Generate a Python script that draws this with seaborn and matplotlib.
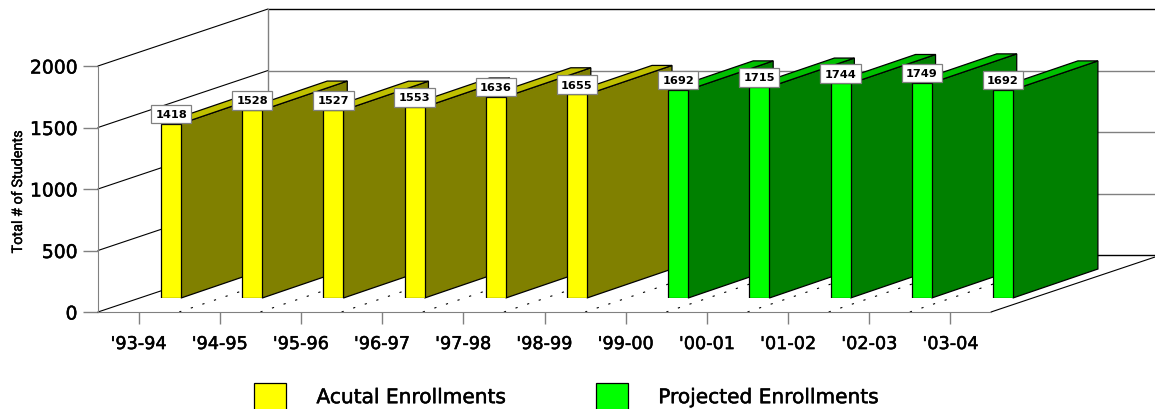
import pandas as pd
import seaborn as sns
import matplotlib.pyplot as plt
import matplotlib.patheffects as pe
from matplotlib.patches import Polygon

years = ["'93-94", "'94-95", "'95-96", "'96-97", "'97-98", "'98-99", "'99-00",
         "'00-01", "'01-02", "'02-03", "'03-04"]
enrollments = [1418, 1528, 1527, 1553, 1636, 1655, 1692, 1715, 1744, 1749, 1692]
series = ["Acutal Enrollments"] * 6 + ["Projected Enrollments"] * 5
y_ticks = [0, 500, 1000, 1500, 2000]

front_colors = {"Acutal Enrollments": "#ffff00", "Projected Enrollments": "#00ff00"}
side_colors = {"#ffff00": "#808000", "#00ff00": "#008000"}
top_colors = {"#ffff00": "#c0c000", "#00ff00": "#00c000"}

df = pd.DataFrame({"year": years, "students": enrollments, "series": series})

sns.set_style("white")
plt.rcParams["font.family"] = ["DejaVu Sans"]
plt.rcParams["text.color"] = "black"
plt.rcParams["axes.labelcolor"] = "black"
plt.rcParams["xtick.labelcolor"] = "black"
plt.rcParams["ytick.labelcolor"] = "black"

W, H = 1155, 410
fig = plt.figure(figsize=(W / 100, H / 100), dpi=100)
heavy = [pe.withStroke(linewidth=0.35, foreground="black")]

# wall and floor axes, pixel size of one category and one student
ax = fig.add_axes([98 / W, (H - 313) / H, 893 / W, 246 / H])
ax.set_xlim(-0.5, 10.5)
ax.set_ylim(0, 2000)
cat_px = 893 / 11
val_px = 246 / 2000
wall_dx = 170 / cat_px
wall_dy = 57 / val_px
right_edge = 10.5 + (1155 - 991) / cat_px

ax.set_xticks(range(11), years)
ax.set_yticks(y_ticks)
ax.tick_params(axis="x", length=8.6, width=1, color="#808080", labelsize=12.7, pad=8, bottom=True)
ax.tick_params(axis="y", length=10.8, width=1, color="#808080", labelsize=13.5, pad=4, left=True)
for lab in ax.get_xticklabels() + ax.get_yticklabels():
    lab.set_path_effects(heavy)
for name in ["top", "right"]:
    ax.spines[name].set_visible(False)
for name in ["left", "bottom"]:
    ax.spines[name].set_color("#808080")
ax.set_ylabel("Total # of Students", family=["Roboto", "DejaVu Sans"], fontsize=10.4,
              path_effects=[pe.withStroke(linewidth=0.25, foreground="black")])
ax.yaxis.set_label_coords((25 - 98) / 893, (313 - 193) / 246)

# left wall and back wall lines
for t in y_ticks:
    ax.plot([-0.5, -0.5 + wall_dx], [t, t + wall_dy], color="black", lw=0.8, clip_on=False)
    back = "black" if t in (0, 2000) else "#808080"
    ax.plot([-0.5 + wall_dx, right_edge], [t + wall_dy, t + wall_dy], color=back, lw=1, clip_on=False)
ax.plot([-0.5 + wall_dx] * 2, [wall_dy, 2000 + wall_dy], color="#808080", lw=1, clip_on=False)
ax.plot([10.5, 10.5 + wall_dx], [0, wall_dy], color="black", lw=0.8, clip_on=False)

# dotted floor lines between categories
for k in range(10):
    ax.plot([k + 0.5, k + 0.5 + wall_dx], [0, wall_dy], color="black", lw=0.8,
            ls=(0, (2, 9)), clip_on=False)

# bars sit on a plane set back from the front of the floor
ax_bar = fig.add_axes([(98 + 42.5) / W, (H - 299) / H, 893 / W, 246 / H])
ax_bar.patch.set_alpha(0)
sns.barplot(data=df, x="year", y="students", hue="series", hue_order=list(front_colors),
            palette=front_colors, order=years, width=40 / cat_px, gap=0, dodge=True,
            saturation=1, edgecolor="black", linewidth=0.9, ax=ax_bar)
ax_bar.set_xlim(-0.5, 10.5)
ax_bar.set_ylim(0, 2000)

depth_x = 85 / cat_px
depth_y = 29 / val_px
bars = [p for p in ax_bar.patches if p.get_height() > 0]
bars = sorted(bars, key=lambda p: p.get_x())
for i, p in enumerate(bars):
    x0, w, h = p.get_x(), p.get_width(), p.get_height()
    x1 = x0 + w
    r, g, b, _ = p.get_facecolor()
    key = "#%02x%02x%02x" % (round(r * 255), round(g * 255), round(b * 255))
    side = Polygon([(x1, 0), (x1, h), (x1 + depth_x, h + depth_y), (x1 + depth_x, depth_y)],
                   fc=side_colors[key], ec="black", lw=0.9, clip_on=False, zorder=10 + 2 * i)
    top = Polygon([(x0, h), (x1, h), (x1 + depth_x, h + depth_y), (x0 + depth_x, h + depth_y)],
                  fc=top_colors[key], ec="black", lw=0.9, clip_on=False, zorder=10 + 2 * i)
    ax_bar.add_patch(side)
    ax_bar.add_patch(top)
    p.set_zorder(11 + 2 * i)
    ax_bar.annotate(str(int(h)), (x0 + w / 2, h), xytext=(0, 7), textcoords="offset points",
                    ha="center", va="center", fontsize=8.2, fontweight="bold", zorder=100,
                    bbox=dict(boxstyle="square,pad=0.38", fc="white", ec="#808080", lw=0.9),
                    annotation_clip=False)

sns.move_legend(ax_bar, "lower left", bbox_to_anchor=(254 / W, -0.003), bbox_transform=fig.transFigure,
                ncol=2, title=None, frameon=False, fontsize=14.5, borderaxespad=0, borderpad=0,
                handlelength=1.6, handleheight=1.7, handletextpad=1.5, columnspacing=4.45)
for txt in ax_bar.get_legend().get_texts():
    txt.set_path_effects(heavy)
ax_bar.axis("off")

plt.savefig("out.png", dpi=100)
